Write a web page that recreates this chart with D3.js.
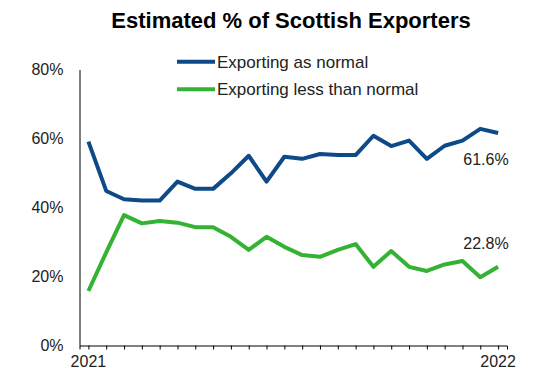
<!DOCTYPE html>
<html>
<head>
<meta charset="utf-8">
<script src="https://cdn.jsdelivr.net/npm/d3@7"></script>
<style>
  body { margin: 0; background: #fff; }
  text { font-family: "Liberation Sans", Arial, sans-serif; fill: #222; }
</style>
</head>
<body>
<svg id="chart"></svg>
<script>
// 24 monthly-ish survey waves, 2021 to 2022
var periods = d3.range(24);
var asNormal = [59.1, 44.8, 42.4, 42.0, 42.0, 47.5, 45.4, 45.4, 49.9, 55.0, 47.5, 54.7,
                54.1, 55.5, 55.2, 55.2, 60.8, 57.8, 59.4, 54.1, 57.9, 59.4, 62.8, 61.6];
var lessThanNormal = [15.8, 27.0, 37.8, 35.4, 36.1, 35.6, 34.3, 34.3, 31.5, 27.7, 31.5, 28.6,
                      26.2, 25.7, 27.7, 29.4, 22.8, 27.4, 22.8, 21.6, 23.5, 24.5, 19.8, 22.8];
var yTicks = [0, 20, 40, 60, 80];
var xLabels = [{i: 0, text: "2021"}, {i: 23, text: "2022"}];
var seriesNames = ["Exporting as normal", "Exporting less than normal"];
var colors = ["#0d4a87", "#34b233"];

var screen = {width: 536, height: 368};
var svg = d3.select("#chart")
    .attr("width", screen.width)
    .attr("height", screen.height);

var xScale = d3.scalePoint()
    .domain(periods)
    .range([79.5, 507])
    .padding(0.5);

var yScale = d3.scaleLinear()
    .domain([0, 80])
    .range([345.5, 69.5]);

// title
svg.append("text")
    .attr("x", 291)
    .attr("y", 28)
    .attr("text-anchor", "middle")
    .style("font-size", "22px")
    .style("font-weight", "bold")
    .style("fill", "#000")
    .text("Estimated % of Scottish Exporters");

// y axis: line only, labels at left
var yAxis = d3.axisLeft(yScale)
    .tickValues(yTicks)
    .tickSize(0)
    .tickPadding(16)
    .tickFormat(function(d){ return d + "%"; });
var yg = svg.append("g")
    .attr("transform", "translate(79.5,0)")
    .call(yAxis);
yg.select(".domain").attr("stroke", "#000");
yg.selectAll("text").style("font-size", "16px").attr("font-family", null);

// x axis: ticks at each period, labels only at the ends
var xAxis = d3.axisBottom(xScale)
    .tickSize(4)
    .tickSizeOuter(4)
    .tickFormat("");
var xg = svg.append("g")
    .attr("transform", "translate(0,345.5)")
    .call(xAxis);
xg.select(".domain").attr("stroke", "#000");
xg.selectAll(".tick line").attr("stroke", "#000");

svg.selectAll(".xlabel")
    .data(xLabels)
    .enter()
    .append("text")
    .attr("class", "xlabel")
    .attr("x", function(d){ return xScale(d.i); })
    .attr("y", 366.5)
    .attr("text-anchor", "middle")
    .style("font-size", "16px")
    .text(function(d){ return d.text; });

// lines
var line = d3.line()
    .x(function(d, i){ return xScale(periods[i]); })
    .y(function(d){ return yScale(d); });

[asNormal, lessThanNormal].forEach(function(series, k)
{
    svg.append("path")
        .datum(series)
        .attr("fill", "none")
        .attr("stroke", colors[k])
        .attr("stroke-width", 4)
        .attr("stroke-linejoin", "round")
        .attr("d", line);
});

// end value labels
var endLabels = [
    {v: asNormal[23], y: 159},
    {v: lessThanNormal[23], y: 243}
];
svg.selectAll(".endlabel")
    .data(endLabels)
    .enter()
    .append("text")
    .attr("class", "endlabel")
    .attr("x", 486)
    .attr("y", function(d){ return d.y; })
    .attr("dy", "0.35em")
    .attr("text-anchor", "middle")
    .style("font-size", "16px")
    .text(function(d){ return d.v.toFixed(1) + "%"; });

// legend
var legend = svg.selectAll(".legend")
    .data(seriesNames)
    .enter()
    .append("g")
    .attr("class", "legend")
    .attr("transform", function(d, i){ return "translate(177," + (61.7 + i * 27.6) + ")"; });
legend.append("line")
    .attr("x1", 0).attr("x2", 38)
    .attr("stroke", function(d, i){ return colors[i]; })
    .attr("stroke-width", 4);
legend.append("text")
    .attr("x", 40)
    .attr("dy", "0.35em")
    .style("font-size", "17px")
    .text(function(d){ return d; });
</script>
</body>
</html>
